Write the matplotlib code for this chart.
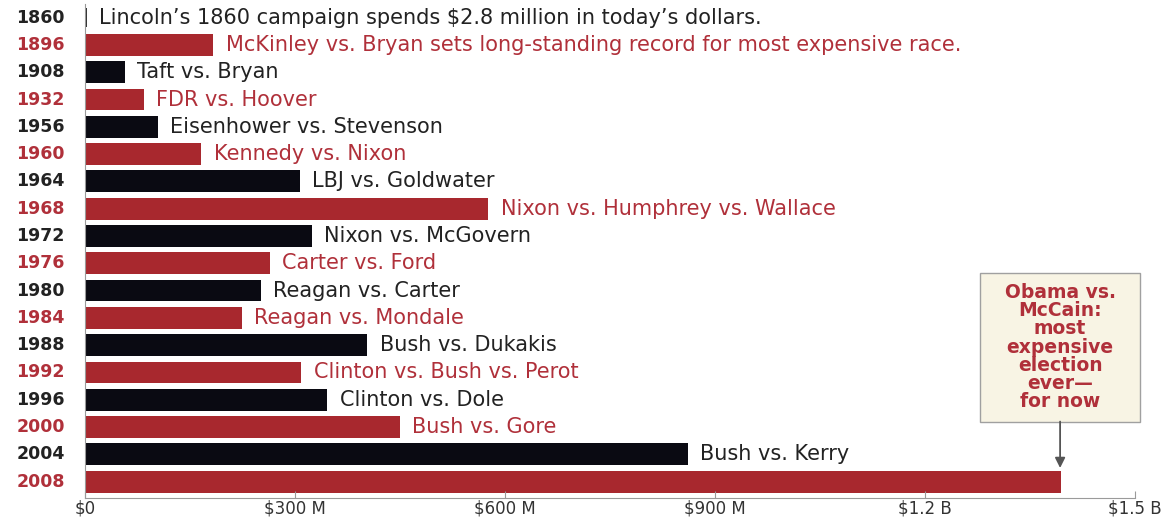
import matplotlib.pyplot as plt
from matplotlib.patches import Rectangle

# spending per presidential race, millions of today's dollars
years = ["1860", "1896", "1908", "1932", "1956", "1960", "1964", "1968", "1972",
         "1976", "1980", "1984", "1988", "1992", "1996", "2000", "2004", "2008"]
spend = [2.8, 183, 57, 84, 104, 166, 307, 576, 324,
         264, 251, 224, 403, 309, 346, 450, 861, 1394]
races = [
    "Lincoln’s 1860 campaign spends $2.8 million in today’s dollars.",
    "McKinley vs. Bryan sets long-standing record for most expensive race.",
    "Taft vs. Bryan",
    "FDR vs. Hoover",
    "Eisenhower vs. Stevenson",
    "Kennedy vs. Nixon",
    "LBJ vs. Goldwater",
    "Nixon vs. Humphrey vs. Wallace",
    "Nixon vs. McGovern",
    "Carter vs. Ford",
    "Reagan vs. Carter",
    "Reagan vs. Mondale",
    "Bush vs. Dukakis",
    "Clinton vs. Bush vs. Perot",
    "Clinton vs. Dole",
    "Bush vs. Gore",
    "Bush vs. Kerry",
    "",
]
xticks = [0, 300, 600, 900, 1200, 1500]
xticklabels = ["$0", "$300 M", "$600 M", "$900 M", "$1.2 B", "$1.5 B"]
callout = "Obama vs.\nMcCain:\nmost\nexpensive\nelection\never—\nfor now"

RED = "#a8282e"
RED_TXT = "#b0303a"
BLACK = "#0a0a12"
GREY = "#9a9a9a"

plt.rcParams["font.family"] = ["DejaVu Sans"]
plt.rcParams["text.parse_math"] = False

fig = plt.figure(figsize=(11.68, 5.2), dpi=100)
# axes spans x 85..1135 px, y 4..498 px
ax = fig.add_axes([85 / 1168, 1 - 498 / 520, 1050 / 1168, 494 / 520])

for i, (yr, val, lab) in enumerate(zip(years, spend, races)):
    red = i % 2 == 1
    bar_col = RED if red else BLACK
    txt_col = RED_TXT if red else "#222222"
    h = 0.8 if i > 0 else 0.7
    ax.barh(i, val, height=h, color=bar_col if i > 0 else "#333333", linewidth=0)
    ax.text(-29, i, yr, ha="right", va="center", fontsize=12.5, fontweight="bold",
            color=txt_col)
    if lab:
        ax.annotate(lab, (val, i), xytext=(9, 0), textcoords="offset points",
                    ha="left", va="center", fontsize=15, color=txt_col)

ax.set_xlim(0, 1500)
ax.set_ylim(17.6, -0.5)
ax.set_yticks([])
ax.set_xticks(xticks)
ax.set_xticklabels(xticklabels, fontsize=12, color="#333333")
ax.tick_params(axis="x", direction="in", length=5, color=GREY, pad=1)
for side in ["top", "right"]:
    ax.spines[side].set_visible(False)
ax.spines["left"].set_color(GREY)
ax.spines["bottom"].set_color(GREY)

# callout box and arrow pointing at the 2008 bar
last = len(years) - 1
box = Rectangle((1279, 9.35), 228, 5.45, facecolor="#f8f4e4", edgecolor="#a0a0a0",
                lw=1, clip_on=False, zorder=3)
ax.add_patch(box)
ax.text(spend[last] - 1, 12.07, callout, ha="center", va="center", fontsize=13.5,
        fontweight="bold", color=RED_TXT, linespacing=0.95, zorder=4)
ax.annotate("", (spend[last] - 1, last - 0.5), xytext=(spend[last] - 1, 14.8),
            arrowprops=dict(arrowstyle="-|>", color="#555555", lw=1.3,
                            mutation_scale=15, shrinkA=0, shrinkB=0))

fig.savefig("out.png", dpi=100)
